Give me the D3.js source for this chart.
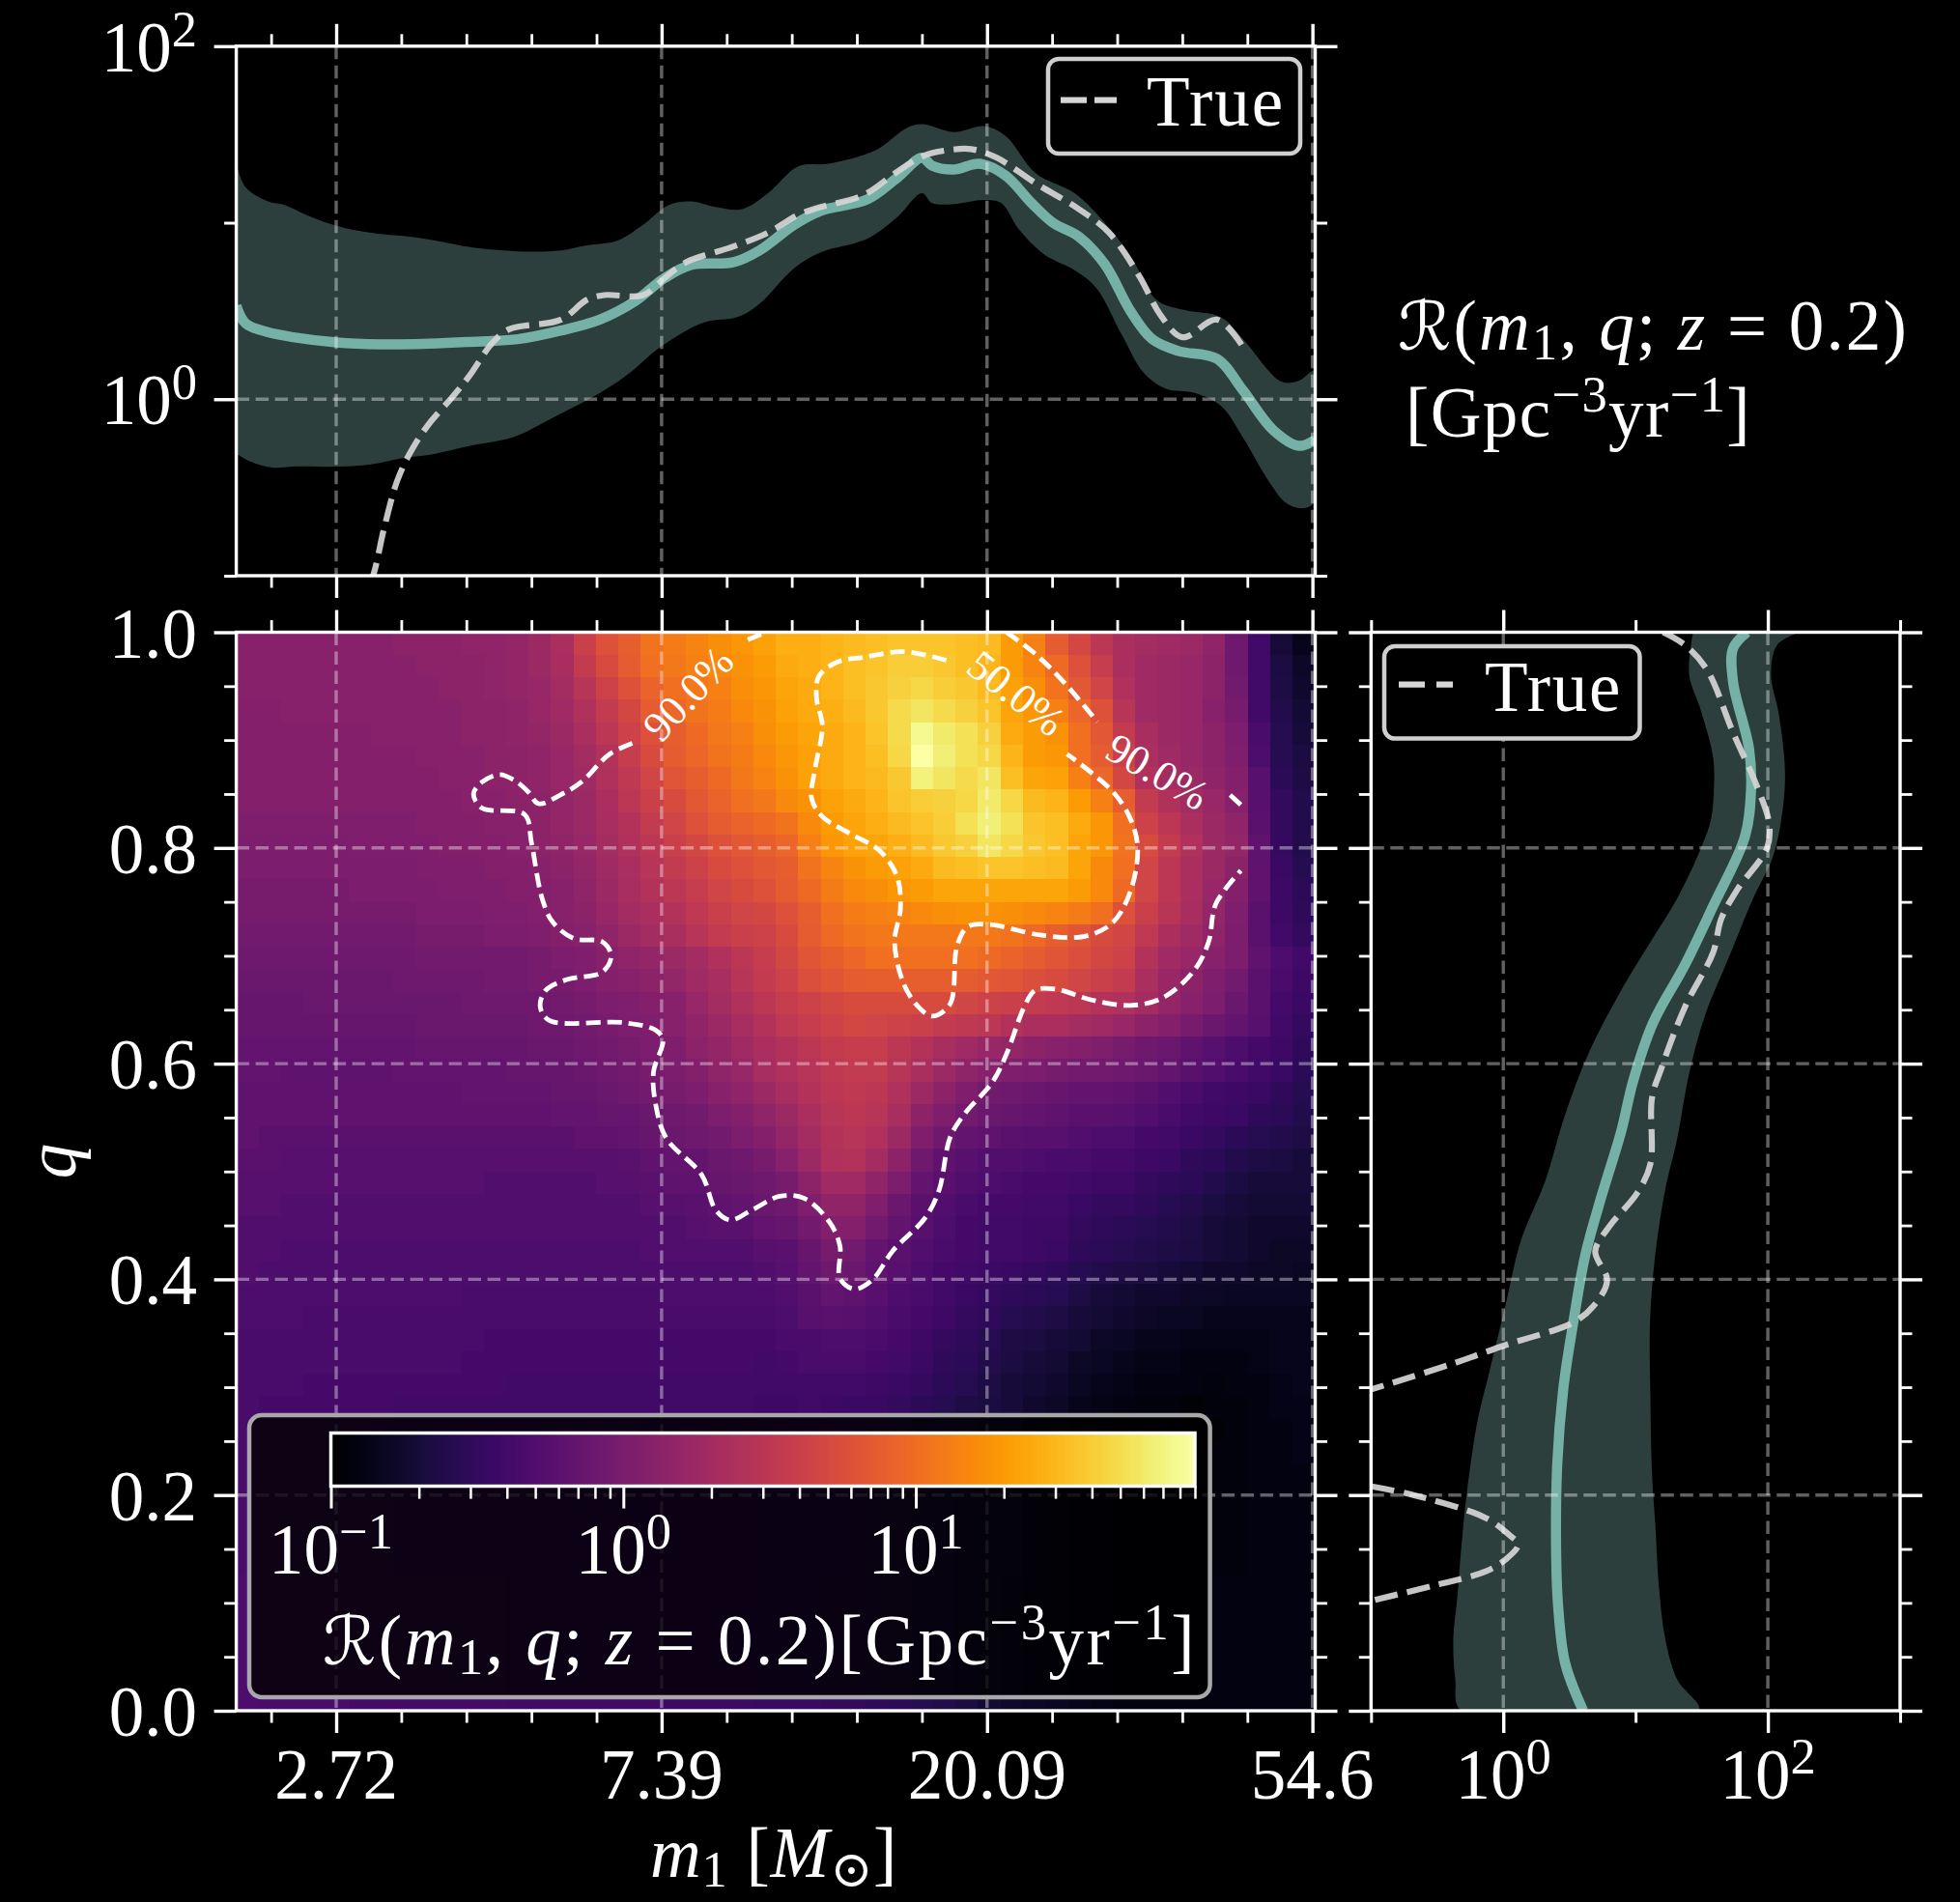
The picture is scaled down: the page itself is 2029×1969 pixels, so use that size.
<!DOCTYPE html>
<html><head><meta charset="utf-8">
<script src="https://cdn.jsdelivr.net/npm/d3@7"></script>
<style>html,body{margin:0;background:#000}svg{display:block}text{font-family:"Liberation Serif","DejaVu Serif",serif;fill:#fff}</style>
</head><body><div id="c"></div>
<script>
// ---------- data ----------
const xMajorLnM = [1,2,3,4];
const xMajorLabels = ["2.72","7.39","20.09","54.6"];
const qMajor = [0,0.2,0.4,0.6,0.8,1.0];
const qLabels = ["0.0","0.2","0.4","0.6","0.8","1.0"];

const topUpperLnM = [.693,.722,.789,.842,.908,1.001,1.107,1.226,1.319,1.425,1.558,1.691,1.770,1.863,1.943,2.022,2.089,2.168,2.248,2.327,2.420,2.513,2.659,2.752,2.800,2.898,2.991,3.057,3.150,3.269,3.362,3.442,3.521,3.601,3.720,3.787,3.906,3.959,4.008];
const topUpperLogR = [1.334,1.200,1.122,1.100,1.044,.983,.943,.921,.894,.858,.838,.843,.872,.898,.988,1.100,1.120,1.088,1.077,1.167,1.319,1.334,1.412,1.535,1.558,1.513,1.547,1.491,1.279,1.167,.999,.809,.563,.507,.463,.340,.098,.105,.161];
const topLowerLnM = [.693,.736,.802,.882,1.001,1.107,1.213,1.293,1.425,1.545,1.664,1.823,1.903,1.996,2.128,2.235,2.301,2.407,2.487,2.633,2.725,2.800,2.831,2.898,2.991,3.044,3.097,3.176,3.269,3.336,3.415,3.481,3.548,3.641,3.720,3.787,3.866,3.919,3.972,4.008];
const topLowerLogR = [-.308,-.353,-.387,-.380,-.382,-.369,-.331,-.313,-.259,-.215,-.107,.049,.150,.295,.434,.467,.541,.742,.831,.910,1.033,1.167,1.111,1.106,1.129,1.111,.965,.820,.731,.630,.362,.150,.060,.034,-.040,-.219,-.465,-.588,-.617,-.577];
const topMedianLnM = [.693,.722,.789,.868,1.001,1.134,1.266,1.399,1.558,1.691,1.810,1.916,2.009,2.089,2.221,2.301,2.407,2.487,2.633,2.725,2.800,2.831,2.898,2.977,3.057,3.137,3.203,3.282,3.362,3.442,3.508,3.588,3.707,3.787,3.879,3.959,4.008];
const topMedianLogR = [.530,.429,.380,.351,.322,.311,.313,.324,.340,.389,.451,.552,.686,.760,.776,.843,.988,1.066,1.133,1.256,1.368,1.323,1.301,1.334,1.267,1.111,.999,.921,.764,.496,.340,.273,.228,.049,-.174,-.264,-.230];
const topTrueLnM = [1.100,1.115,1.147,1.187,1.226,1.280,1.359,1.412,1.479,1.531,1.691,1.770,1.823,1.943,2.009,2.075,2.221,2.327,2.420,2.487,2.619,2.725,2.805,2.885,2.951,3.030,3.150,3.282,3.375,3.468,3.534,3.601,3.707,3.787];
const topTrueLogR = [-1.05,-.990,-.733,-.465,-.308,-.152,.016,.139,.317,.396,.451,.563,.590,.590,.686,.776,.865,.943,1.044,1.088,1.155,1.290,1.379,1.412,1.417,1.368,1.223,1.077,.943,.697,.474,.351,.451,.295];

const rightLeftQ = [1,.961,.927,.884,.854,.827,.800,.753,.711,.668,.611,.553,.491,.437,.375,.314,.268,.206,.152,.106,.067,.029,0];
const rightLeftLogR = [1.435,1.405,1.495,1.586,1.592,1.571,1.495,1.314,1.103,.891,.650,.468,.317,.136,.015,-.106,-.196,-.272,-.317,-.347,-.378,-.363,-.317];
const rightRightQ = [1,.988,.961,.923,.869,.830,.792,.753,.699,.645,.591,.530,.483,.422,.360,.291,.221,.175,.113,.067,.029,0];
const rightRightLogR = [2.236,2.069,2.024,2.085,2.130,2.106,2.039,1.888,1.707,1.526,1.405,1.314,1.224,1.148,1.109,1.112,1.124,1.148,1.178,1.224,1.314,1.480];
const rightMedianQ = [1,.985,.954,.892,.854,.811,.746,.692,.638,.584,.537,.476,.422,.360,.298,.229,.152,.098,.044,0];
const rightMedianLogR = [1.843,1.737,1.737,1.858,1.873,1.828,1.586,1.375,1.133,.982,.891,.740,.619,.529,.453,.408,.399,.414,.468,.604];
const rightTrueAQ = [1,.988,.965,.907,.857,.823,.800,.761,.734,.703,.653,.595,.568,.507,.480,.449,.426,.399,.375,.360,.339,.322,.298];
const rightTrueALogR = [1.208,1.375,1.541,1.737,1.918,2.009,1.994,1.767,1.647,1.586,1.375,1.193,1.124,1.112,1.012,.801,.695,.785,.680,.529,.015,-.378,-.997];
const rightTrueBQ = [.208,.200,.179,.163,.154,.140,.129,.116,.102];
const rightTrueBLogR = [-.997,-.680,-.136,.045,.112,.015,-.136,-.529,-.997];

const contour90A = [[1.910,.897],[1.840,.887],[1.753,.861],[1.688,.849],[1.622,.841],[1.590,.852],[1.546,.863],[1.502,.868],[1.448,.861],[1.422,.850],[1.448,.837],[1.579,.831],[1.600,.805],[1.633,.753],[1.666,.731],[1.731,.716],[1.818,.713],[1.845,.700],[1.818,.685],[1.709,.678],[1.644,.668],[1.627,.653],[1.655,.640],[1.884,.638],[1.982,.631],[2.004,.622],[1.975,.592],[1.982,.562],[2.014,.531],[2.123,.497],[2.167,.464],[2.211,.455],[2.276,.464],[2.363,.477],[2.439,.475],[2.516,.453],[2.548,.431],[2.548,.401],[2.592,.391],[2.646,.399],[2.712,.427],[2.810,.457],[2.853,.483],[2.886,.531],[2.930,.553],[3.017,.583],[3.060,.609],[3.115,.653],[3.148,.668],[3.213,.669],[3.322,.659],[3.442,.654],[3.540,.661],[3.638,.687],[3.681,.713],[3.703,.748],[3.780,.779]];
const contour90B = [[2.265,.993],[2.320,1.0]];
const contour90C = [[3.060,1.0],[3.148,.980],[3.235,.954],[3.339,.917]];
const contour90D = [[3.747,.849],[3.780,.840]];
const contour50 = [[2.875,.974],[2.744,.982],[2.625,.977],[2.537,.972],[2.483,.959],[2.476,.939],[2.494,.913],[2.472,.874],[2.461,.846],[2.494,.829],[2.581,.813],[2.668,.798],[2.723,.774],[2.734,.744],[2.716,.713],[2.744,.674],[2.788,.653],[2.832,.644],[2.886,.655],[2.908,.709],[2.941,.727],[3.006,.729],[3.169,.719],[3.300,.718],[3.387,.731],[3.442,.761],[3.463,.800],[3.442,.826],[3.387,.852],[3.246,.887]];
const contourLabels = [{t:"90.0%",x:2.092,q:.940,r:-47},{t:"50.0%",x:3.081,q:.940,r:38},{t:"90.0%",x:3.517,q:.867,r:30}];

// rate per cell as a percentage position along the colour bar's log range (0 = 0.1, 100 = 90);
// rows from q=1 down to q=0, columns from small m1 to large m1
const lowerRowA = [22,22,21,21,21,21,21,20,20,20,20,20,20,20,20,20,20,19,19,19,19,19,19,18,18,18,18,17,16,15,14,13,11,10,9,7,6,5,4,3,3,2,2,2,2,3,3,3];
const lowerRowB = [23,22,22,22,22,21,21,21,21,21,21,21,20,20,20,20,20,20,20,19,19,19,19,18,18,18,17,17,16,15,14,13,11,9,8,7,6,5,4,3,3,3,3,3,3,3,3,3];
const rateGrid = [
[37,37,37,37,37,37,37,38,38,38,39,39,40,42,46,54,60,64,69,71,73,75,77,79,82,82,83,84,85,86,86,86,85,84,78,72,63,57,50,46,44,43,42,39,31,20,10,5],
[37,37,37,37,37,37,37,37,38,38,38,39,40,42,45,52,58,63,68,70,72,74,76,78,81,82,83,85,86,88,88,87,85,83,78,73,67,60,53,46,43,42,41,38,31,20,11,7],
[37,37,37,37,37,37,37,37,37,38,38,39,40,41,44,49,55,60,65,68,70,72,75,77,80,81,83,85,87,89,90,88,87,84,79,75,69,62,56,47,43,42,41,38,32,20,12,8],
[36,36,37,37,37,37,37,37,37,37,38,38,39,41,43,47,52,57,63,66,69,71,74,76,79,81,82,84,87,91,93,91,89,86,80,77,72,66,60,49,43,42,41,37,33,20,13,9],
[36,36,36,36,36,36,37,37,37,37,38,38,39,40,42,46,50,55,60,64,67,70,72,75,78,80,81,83,86,91,98,94,92,89,81,78,76,68,62,52,45,42,41,38,34,22,14,10],
[36,36,36,36,36,36,36,36,37,37,37,38,38,39,41,44,48,53,58,63,66,69,71,74,77,79,81,83,85,90,100,95,92,90,83,78,77,68,63,54,46,43,41,38,35,23,14,11],
[36,36,36,36,36,36,36,36,36,37,37,38,38,39,41,43,47,51,56,61,64,67,70,73,76,79,81,83,84,87,96,93,91,93,85,80,79,72,66,57,47,44,42,39,36,25,15,12],
[36,36,36,36,36,36,36,36,36,36,37,37,38,38,40,42,46,50,54,58,62,65,68,70,74,76,79,81,83,86,88,89,90,94,90,84,83,78,72,64,52,47,44,41,37,25,17,13],
[35,35,35,35,35,35,35,35,36,36,36,37,37,38,40,42,45,48,52,56,60,63,65,67,69,74,78,80,82,84,86,88,92,95,92,86,85,81,77,68,55,50,46,42,39,26,17,13],
[34,34,34,34,34,35,35,35,35,36,36,36,37,38,39,41,44,47,50,54,57,60,62,64,66,72,77,79,80,82,84,87,89,93,90,87,85,80,77,69,58,52,47,42,40,27,17,13],
[34,34,34,34,34,34,34,34,35,35,35,36,36,37,38,40,43,46,49,52,55,58,60,62,64,69,73,76,78,79,81,84,85,86,86,85,84,80,74,68,56,50,46,42,38,27,18,14],
[33,33,33,33,33,34,34,34,34,35,35,35,36,36,37,39,42,45,48,50,53,56,58,60,63,67,71,74,75,77,78,80,80,80,80,80,80,78,74,67,56,50,46,41,36,27,19,15],
[33,33,33,33,33,33,33,33,34,34,34,35,35,36,37,38,41,44,46,48,51,54,56,57,60,64,68,71,72,73,74,75,76,76,75,74,73,71,68,60,54,49,45,40,35,26,19,16],
[32,32,32,32,32,32,32,32,33,33,33,34,34,35,36,37,39,42,44,46,49,52,54,55,58,63,67,69,70,70,70,70,70,70,69,67,64,61,58,56,51,46,43,39,34,26,20,17],
[31,31,31,31,31,31,31,31,32,32,32,32,32,33,34,35,37,39,40,42,44,47,50,53,57,61,64,66,68,68,68,68,68,67,65,63,61,59,57,55,48,43,41,37,34,27,23,20],
[30,30,30,30,30,30,30,31,31,31,31,32,32,33,33,34,36,37,38,40,43,45,49,52,55,59,61,63,64,64,64,64,63,62,61,59,58,56,54,52,46,41,38,35,32,26,22,19],
[29,29,29,30,30,30,30,30,30,30,31,31,31,31,32,33,34,35,36,37,41,44,47,50,53,55,57,58,58,58,58,58,56,55,54,52,51,50,48,47,44,40,37,34,30,26,21,18],
[29,29,29,29,29,29,29,29,30,30,30,30,30,31,31,32,33,34,35,37,39,42,45,48,51,53,55,57,56,55,54,52,51,50,48,46,46,44,43,41,38,36,33,30,28,25,20,17],
[28,28,28,28,28,28,28,28,29,29,29,29,29,30,30,31,32,33,34,35,38,40,43,46,48,50,52,53,53,50,48,45,43,41,40,38,37,36,35,33,31,30,27,25,23,21,19,16],
[28,28,27,27,27,27,27,28,28,28,28,28,29,29,29,30,31,32,33,34,36,39,41,45,47,49,51,52,52,49,46,42,39,37,35,34,33,32,32,31,30,28,26,24,22,20,18,15],
[27,27,27,27,27,27,27,27,27,27,28,28,28,28,29,29,30,31,32,33,34,37,39,42,45,48,50,51,50,47,42,38,35,32,31,30,29,28,28,27,26,24,22,20,19,18,16,14],
[27,27,27,27,27,27,27,27,27,27,27,27,27,27,28,28,29,29,30,31,32,34,36,39,42,46,49,50,49,45,38,35,32,30,29,28,27,26,26,25,24,22,20,19,18,16,15,13],
[27,26,26,26,26,26,26,26,26,26,26,26,26,26,26,27,27,28,29,30,31,32,34,36,40,44,48,49,47,42,35,31,28,27,26,25,25,24,23,23,21,20,18,17,15,14,13,12],
[26,26,25,25,25,25,25,25,25,25,25,25,25,25,25,25,25,26,27,28,28,30,31,33,37,42,47,48,44,38,31,27,25,24,24,23,22,22,21,21,19,18,16,15,13,12,11,10],
[25,25,25,25,25,25,25,25,25,25,25,24,24,24,24,24,25,25,26,27,27,29,30,31,33,38,43,43,39,34,28,26,24,23,22,21,21,20,19,19,17,16,15,13,11,10,10,10],
[25,25,24,24,24,24,24,24,24,24,24,24,24,24,24,24,24,24,25,25,26,27,28,30,31,35,39,39,35,30,26,24,22,21,21,20,20,18,17,17,16,14,13,11,10,9,9,9],
[24,24,24,24,24,24,24,24,24,24,24,24,24,24,24,24,24,24,24,24,25,26,26,28,29,32,36,36,32,28,25,23,21,20,20,19,19,17,16,15,14,13,12,10,9,8,8,8],
[24,24,23,23,23,23,23,23,23,23,23,23,23,23,23,23,23,23,24,24,24,24,24,25,26,29,33,32,28,26,24,22,21,20,20,19,18,16,15,14,13,12,11,10,9,8,7,7],
[24,23,23,23,23,23,23,23,23,23,23,23,23,23,23,23,23,23,23,23,23,23,23,24,25,28,31,30,27,25,23,21,20,19,18,17,16,14,13,12,11,10,9,8,8,7,7,6],
[23,23,23,23,23,23,23,23,23,23,22,22,22,22,22,22,22,22,22,23,23,23,23,23,24,26,28,27,25,23,22,20,18,17,16,15,14,12,10,9,8,8,7,7,6,6,6,6],
[23,23,23,22,22,22,22,22,22,22,22,22,22,22,22,22,22,22,22,22,22,22,22,22,23,25,26,25,24,22,21,19,17,16,14,13,12,10,9,8,7,6,6,5,5,5,5,5],
[22,22,22,22,22,22,22,22,22,22,22,21,21,21,21,21,21,21,21,21,21,21,21,21,22,22,23,23,22,21,19,17,16,14,12,11,10,9,7,6,5,5,4,4,4,4,5,5],
[22,22,22,22,22,22,22,22,22,22,21,21,21,21,21,21,21,21,21,21,21,21,21,20,21,22,22,22,21,20,18,16,15,13,11,10,9,7,6,5,4,4,3,3,3,4,5,5],
[22,22,22,21,21,21,21,21,21,21,21,21,20,20,20,20,20,20,20,20,20,20,20,20,20,20,20,20,19,18,17,15,14,12,10,9,8,6,5,4,3,3,3,2,3,3,4,5],
[22,21,21,21,21,21,21,20,20,20,20,20,20,20,20,20,20,20,20,20,20,20,20,19,19,20,19,18,18,17,15,14,12,11,10,8,7,5,4,3,2,2,1,2,2,3,4,4],
[22,21,21,21,21,21,20,20,20,20,20,20,20,20,20,20,20,20,19,19,19,19,19,19,19,19,19,18,17,16,14,13,12,10,9,7,6,5,4,3,2,2,1,1,2,3,3,4],
[22,21,21,21,21,21,20,20,20,20,20,20,20,20,20,20,20,20,19,19,19,19,19,19,19,19,18,17,16,15,14,13,11,10,9,7,6,5,4,3,2,2,2,2,2,3,3,4],
lowerRowA,lowerRowA,lowerRowA,lowerRowA,lowerRowA,lowerRowB,lowerRowB,lowerRowB,lowerRowB,lowerRowB,lowerRowB
];
const colorDomain = [0.1, 90];
const colorbarMajor = [0.1,1,10];
const colorbarMinor = [.2,.3,.4,.5,.6,.7,.8,.9,2,3,4,5,6,7,8,9,20,30,40,50,60,70,80,90];

// ---------- layout ----------
const W=2029,H=1969;
const X0=244.6,X1=1361.5,TT=47.8,TB=596,MT=654.5,MB=1771,RL=1419.3,RR=1967;
const MAJ=23,MIN=12.5,FS=73;
const TEAL="#2c3f3c",MED="#7fc1b5",TRUE="#d6d6d6";
const x=d3.scaleLinear().domain([.693,4.0085]).range([X0,X1]);
const yTop=d3.scaleLinear().domain([-1,2]).range([TB,TT]);
const yQ=d3.scaleLinear().domain([0,1]).range([MB,MT]);
const xR=d3.scaleLinear().domain([-1,3]).range([RL,RR]);
const cbX=d3.scaleLog().domain(colorDomain).range([342.5,1237]);
const col=d3.scaleSequentialLog(d3.interpolateInferno).domain(colorDomain);
const pctToRate=d3.scaleLog().domain([0.1,90]).range([0,100]);

const svg=d3.select("#c").append("svg").attr("width",W).attr("height",H).style("background","#000");
const defs=svg.append("defs");
function clip(id,a,b,c,d){defs.append("clipPath").attr("id",id).append("rect").attr("x",a).attr("y",b).attr("width",c-a).attr("height",d-b);}
clip("cTop",X0,TT,X1,TB);clip("cMain",X0,MT,X1,MB);clip("cRight",RL,MT,RR,MB);

function rich(parent,px,py,segs,o={}){
  const fs=o.fs||FS;
  const t=parent.append("text").attr("x",px).attr("y",py).attr("font-size",fs).attr("text-anchor",o.anchor||"start");
  if(o.transform)t.attr("transform",o.transform);
  let cur=0,chars=0;
  segs.forEach(s=>{
    const [txt,k]=Array.isArray(s)?s:[s,""];
    chars+=txt.length;
    const target=k==="sup"?-fs*.36:k==="sub"?fs*.14:0;
    const ts=t.append("tspan").text(txt).attr("dy",target-cur);
    cur=target;
    if(k==="sup"||k==="sub")ts.attr("font-size",fs*.72);
    if(k==="i")ts.attr("font-style","italic");
    if(k==="c")ts.attr("style","font-family:'DejaVu Serif','DejaVu Sans';font-style:italic").attr("font-size",fs*.95);
  });
  if(o.w){const len=t.node().getComputedTextLength();t.attr("letter-spacing",(o.w-len)/chars);}
  return t;
}
function ticks(sel,fn,scale,vals,size,sw,tx,ty){
  sel.append("g").attr("transform",`translate(${tx},${ty})`)
   .call(fn(scale).tickValues(vals).tickSize(size).tickFormat(""))
   .call(g=>g.select(".domain").remove())
   .call(g=>g.selectAll("line").attr("stroke","#fff").attr("stroke-width",sw));
}
function frame(g,a,b,c,d){g.append("rect").attr("x",a).attr("y",b).attr("width",c-a).attr("height",d-b).attr("fill","none").attr("stroke","#fff").attr("stroke-width",3.4);}
const xMinor=d3.range(0.8,4.01,0.2).map(v=>+v.toFixed(2)).filter(v=>!xMajorLnM.includes(v));
const qMinor=d3.range(0,1.001,0.05).map(v=>+v.toFixed(2)).filter(v=>!qMajor.includes(v));
function gridV(g,sx,vals,a,b){g.append("g").selectAll("line").data(vals).join("line").attr("x1",sx).attr("x2",sx).attr("y1",a).attr("y2",b).attr("stroke","#fff").attr("stroke-opacity",.38).attr("stroke-width",3.4).attr("stroke-dasharray","13.5 6.5");}
function gridH(g,sy,vals,a,b){g.append("g").selectAll("line").data(vals).join("line").attr("y1",sy).attr("y2",sy).attr("x1",a).attr("x2",b).attr("stroke","#fff").attr("stroke-opacity",.38).attr("stroke-width",3.4).attr("stroke-dasharray","13.5 6.5");}
const dash="24 10";
const zip=(a,b)=>a.map((v,i)=>[v,b[i]]);

// ---------- top panel ----------
const topG=svg.append("g");
const tc=topG.append("g").attr("clip-path","url(#cTop)");
const lineTop=d3.line().x(d=>x(d[0])).y(d=>yTop(d[1])).curve(d3.curveCatmullRom.alpha(.5));
tc.append("path").attr("d",lineTop(zip(topUpperLnM,topUpperLogR).concat(zip(topLowerLnM,topLowerLogR).reverse()))+"Z").attr("fill",TEAL);
tc.append("path").attr("d",lineTop(zip(topMedianLnM,topMedianLogR))).attr("fill","none").attr("stroke",MED).attr("stroke-width",10.5).attr("stroke-opacity",.88);
tc.append("path").attr("d",lineTop(zip(topTrueLnM,topTrueLogR))).attr("fill","none").attr("stroke",TRUE).attr("stroke-width",6.2).attr("stroke-dasharray",dash).attr("stroke-opacity",.92);
gridV(tc,d=>x(d),xMajorLnM,TT,TB);
gridH(tc,d=>yTop(d),[0],X0,X1);
frame(topG,X0,TT,X1,TB);
ticks(topG,d3.axisTop,x,xMajorLnM,MAJ,3.4,0,TT);ticks(topG,d3.axisTop,x,xMinor,MIN,2.8,0,TT);
ticks(topG,d3.axisBottom,x,xMajorLnM,MAJ,3.4,0,TB);ticks(topG,d3.axisBottom,x,xMinor,MIN,2.8,0,TB);
ticks(topG,d3.axisLeft,yTop,[0,2],MAJ,3.4,X0,0);ticks(topG,d3.axisLeft,yTop,[-1,1],MIN,3,X0,0);
ticks(topG,d3.axisRight,yTop,[0,2],MAJ,3.4,X1,0);ticks(topG,d3.axisRight,yTop,[-1,1],MIN,3,X1,0);
[0,2].forEach(v=>rich(topG,204,yTop(v)+26,["10",[String(v),"sup"]],{anchor:"end"}));
function legend(g,a,b,c,d,lx0,lx1,ly,tx,ty,w,da){
  g.append("rect").attr("x",a).attr("y",b).attr("width",c-a).attr("height",d-b).attr("rx",11).attr("fill","#000").attr("stroke","#cfcfcf").attr("stroke-width",4.5);
  g.append("line").attr("x1",lx0).attr("x2",lx1).attr("y1",ly).attr("y2",ly).attr("stroke",TRUE).attr("stroke-width",6.2).attr("stroke-dasharray",da);
  rich(g,tx,ty,["True"],{w});
}
legend(topG,1085,61,1346,159,1098,1156,103.7,1187,130,143,"27 8");

rich(svg,1447,362,[["ℛ","c"],"(",["m","i"],["1","sub"],", ",["q","i"],"; ",["z","i"]," = 0.2)"],{w:529});
rich(svg,1455,452,["[Gpc",["−3","sup"],"yr",["−1","sup"],"]"],{w:358});

// ---------- main panel ----------
const main=svg.append("g");
const mc=main.append("g").attr("clip-path","url(#cMain)");
const nR=rateGrid.length,nC=rateGrid[0].length;
const gridX=d3.scaleLinear().domain([0,nC]).range(x.domain());
const gridQ=d3.scaleLinear().domain([0,nR]).range([1,0]);
mc.append("g").selectAll("g").data(rateGrid).join("g").each(function(row,r){
  d3.select(this).selectAll("rect").data(row).join("rect")
    .attr("x",(d,c)=>x(gridX(c))).attr("y",yQ(gridQ(r)))
    .attr("width",(d,c)=>x(gridX(c+1))-x(gridX(c))+.6).attr("height",yQ(gridQ(r+1))-yQ(gridQ(r))+.6)
    .attr("fill",d=>col(pctToRate.invert(d))).attr("shape-rendering","crispEdges");
});
gridV(mc,d=>x(d),xMajorLnM,MT,MB);
gridH(mc,d=>yQ(d),[.2,.4,.6,.8],X0,X1);
const lineMain=d3.line().x(d=>x(d[0])).y(d=>yQ(d[1])).curve(d3.curveCatmullRom.alpha(.5));
[contour90A,contour90B,contour90C,contour90D,contour50].forEach(c=>{
  mc.append("path").attr("d",lineMain(c)).attr("fill","none").attr("stroke","#fff").attr("stroke-width",4.8).attr("stroke-dasharray","15 7");
});
contourLabels.forEach(l=>{
  mc.append("text").attr("font-size",44).attr("text-anchor","middle").attr("dominant-baseline","middle")
    .attr("transform",`translate(${x(l.x)},${yQ(l.q)}) rotate(${l.r})`).text(l.t);
});
const lg=main.append("g");
lg.append("rect").attr("x",258).attr("y",1465).attr("width",994.6).attr("height",292).attr("rx",13)
  .attr("fill","#000").attr("fill-opacity",.8).attr("stroke","#a8a8a8").attr("stroke-width",4.5);
const cbVals=d3.range(0,300).map(i=>pctToRate.invert(i/3));
lg.append("g").selectAll("rect").data(cbVals).join("rect")
  .attr("x",d=>cbX(d)).attr("y",1483.5).attr("width",4).attr("height",55).attr("fill",d=>col(d)).attr("shape-rendering","crispEdges");
lg.append("rect").attr("x",342.5).attr("y",1483.5).attr("width",894.5).attr("height",55).attr("fill","none").attr("stroke","#fff").attr("stroke-width",3.5);
ticks(lg,d3.axisBottom,cbX,colorbarMajor,23,3,0,1538.6);
ticks(lg,d3.axisBottom,cbX,colorbarMinor,13,2.5,0,1538.6);
[-1,0,1].forEach(e=>rich(lg,cbX(Math.pow(10,e)),1629,["10",[e<0?"−1":String(e),"sup"]],{anchor:"middle"}));
rich(lg,334,1723,[["ℛ","c"],"(",["m","i"],["1","sub"],", ",["q","i"],"; ",["z","i"]," = 0.2)[Gpc",["−3","sup"],"yr",["−1","sup"],"]"],{w:905});

frame(main,X0,MT,X1,MB);
ticks(main,d3.axisTop,x,xMajorLnM,MAJ,3.4,0,MT);ticks(main,d3.axisTop,x,xMinor,MIN,2.8,0,MT);
ticks(main,d3.axisBottom,x,xMajorLnM,MAJ,3.4,0,MB);ticks(main,d3.axisBottom,x,xMinor,MIN,2.8,0,MB);
ticks(main,d3.axisLeft,yQ,qMajor,MAJ,3.4,X0,0);ticks(main,d3.axisLeft,yQ,qMinor,MIN,2.8,X0,0);
ticks(main,d3.axisRight,yQ,qMajor,MAJ,3.4,X1,0);ticks(main,d3.axisRight,yQ,qMinor,MIN,2.8,X1,0);
qMajor.forEach((q,i)=>rich(main,204,yQ(q)+26,[qLabels[i]],{anchor:"end"}));
xMajorLnM.forEach((v,i)=>rich(main,x(v),1862,[xMajorLabels[i]],{anchor:"middle"}));
rich(main,673,1943,[["m","i"],["1","sub"]," [",["M","i"],["⊙","sub"],"]"],{w:256});
rich(main,0,0,[["q","i"]],{transform:"translate(78,1202) rotate(-90)",anchor:"middle"});

// ---------- right panel ----------
const right=svg.append("g");
const rc=right.append("g").attr("clip-path","url(#cRight)");
const lineR=d3.line().x(d=>xR(d[1])).y(d=>yQ(d[0])).curve(d3.curveCatmullRom.alpha(.5));
rc.append("path").attr("d",lineR(zip(rightLeftQ,rightLeftLogR).concat(zip(rightRightQ,rightRightLogR).reverse()))+"Z").attr("fill",TEAL);
rc.append("path").attr("d",lineR(zip(rightMedianQ,rightMedianLogR))).attr("fill","none").attr("stroke",MED).attr("stroke-width",10.5).attr("stroke-opacity",.88);
[zip(rightTrueAQ,rightTrueALogR),zip(rightTrueBQ,rightTrueBLogR)].forEach(s=>{
  rc.append("path").attr("d",lineR(s)).attr("fill","none").attr("stroke",TRUE).attr("stroke-width",6.2).attr("stroke-dasharray",dash).attr("stroke-opacity",.92);
});
gridV(rc,d=>xR(d),[0,2],MT,MB);
gridH(rc,d=>yQ(d),[.2,.4,.6,.8],RL,RR);
frame(right,RL,MT,RR,MB);
ticks(right,d3.axisTop,xR,[0,2],MAJ,3.4,0,MT);ticks(right,d3.axisTop,xR,[-1,1,3],MIN,3,0,MT);
ticks(right,d3.axisBottom,xR,[0,2],MAJ,3.4,0,MB);ticks(right,d3.axisBottom,xR,[-1,1,3],MIN,3,0,MB);
ticks(right,d3.axisLeft,yQ,qMajor,MAJ,3.4,RL,0);ticks(right,d3.axisLeft,yQ,qMinor,MIN,2.8,RL,0);
ticks(right,d3.axisRight,yQ,qMajor,MAJ,3.4,RR,0);ticks(right,d3.axisRight,yQ,qMinor,MIN,2.8,RR,0);
[0,2].forEach(v=>rich(right,xR(v),1862,["10",[String(v),"sup"]],{anchor:"middle"}));
legend(right,1433,669,1697.5,764.6,1448,1504,708.6,1537,736,142,"27 12");
</script></body></html>
